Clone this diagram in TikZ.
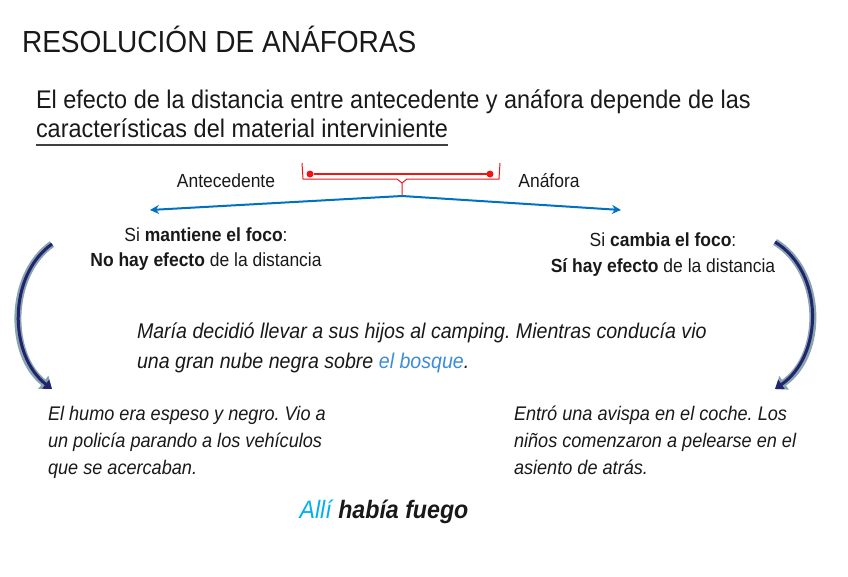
\documentclass[tikz,border=0pt]{standalone}
\usepackage{fontspec}
\setmainfont{Liberation Sans}[FakeStretch=0.92]
\usetikzlibrary{arrows.meta}
\definecolor{linkblue}{RGB}{0,112,192}
\definecolor{softblue}{RGB}{60,140,215}
\definecolor{skyblue}{RGB}{0,176,240}
\definecolor{bracered}{RGB}{240,20,20}
\definecolor{arrownavy}{RGB}{35,35,110}
\definecolor{arrowgrey}{RGB}{135,165,175}
\frenchspacing
\tikzset{
  every node/.style={inner sep=0pt, outer sep=0pt, text=black!90},
  title/.style={anchor=base west, font=\fontsize{30.5}{36}\selectfont},
  lead/.style={anchor=base west, font=\fontsize{25.5}{30}\selectfont},
  tag/.style={anchor=base, font=\fontsize{19}{22}\selectfont},
  story/.style={anchor=base west, font=\fontsize{21.3}{25}\selectfont\itshape},
  sidestory/.style={anchor=base west, font=\fontsize{19.7}{24}\selectfont\itshape},
  curvearrow/.style={line width=7pt, arrowgrey, -{Triangle[length=11pt,width=16pt]}},
  curvecore/.style={line width=3pt, arrownavy, -{Triangle[length=8pt,width=11pt]}}
}
\begin{document}
\begin{tikzpicture}[x=1pt,y=-1pt]
  \useasboundingbox (0,0) rectangle (848,576);
  % heading
  \node[title] (head) at (22,52) {RESOLUCIÓN DE ANÁFORAS};
  \node[lead] (lineA) at (36,108) {El efecto de la distancia entre antecedente y anáfora depende de las};
  \node[lead] (lineB) at (36,137) {características del material interviniente};
  \draw[line width=1.5pt, black!75] (lineB.base west) ++(0,8) -- ++(412,0);
  % red bracket
  \coordinate (brL) at (302,163);
  \coordinate (brR) at (500,163);
  \coordinate (brTip) at (402,196);
  \draw[bracered, line width=1pt] (brL) -- (303,179) -- (397,179) -- (402,183) -- (brTip)
        (402,183) -- (407,179) -- (499,179) -- (brR);
  \node[circle, fill=bracered, minimum size=7pt] (dotL) at (310,174) {};
  \node[circle, fill=bracered, minimum size=7pt] (dotR) at (490,174) {};
  \draw[bracered, line width=2pt] (dotL) -- (dotR);
  % blue arrows
  \coordinate (tipL) at (150,210);
  \coordinate (tipR) at (621,210);
  \draw[linkblue, line width=2pt, -{Stealth[length=9pt,width=9pt]}] (brTip) -- (tipL);
  \draw[linkblue, line width=2pt, -{Stealth[length=9pt,width=9pt]}] (brTip) -- (tipR);
  \node[tag] (ante) at (226,187) {Antecedente};
  \node[tag] (anaf) at (549,187) {Anáfora};
  \node[tag] (keepA) at (206,241) {Si \textbf{mantiene el foco}:};
  \node[tag] (keepB) at (206,266) {\textbf{No hay efecto} de la distancia};
  \node[tag] (swapA) at (663,246) {Si \textbf{cambia el foco}:};
  \node[tag] (swapB) at (663,272) {\textbf{Sí hay efecto} de la distancia};
  % curved arrows
  \coordinate (bendLa) at (52,244);
  \coordinate (bendLb) at (52,389);
  \coordinate (bendRa) at (775,242);
  \coordinate (bendRb) at (775,389);
  \draw[curvearrow] (bendLa) .. controls (8,275) and (8,355) .. (bendLb);
  \draw[curvecore] (bendLa) .. controls (8,275) and (8,355) .. (bendLb);
  \draw[curvearrow] (bendRa) .. controls (824,272) and (824,355) .. (bendRb);
  \draw[curvecore] (bendRa) .. controls (824,272) and (824,355) .. (bendRb);
  % story
  \node[story] (storyA) at (137,338) {María decidió llevar a sus hijos al camping. Mientras conducía vio};
  \node[story] (storyB) at (137,368) {una gran nube negra sobre \textcolor{softblue}{el bosque}.};
  \node[sidestory] (leftA) at (48,420) {El humo era espeso y negro. Vio a};
  \node[sidestory] (leftB) at (48,447) {un policía parando a los vehículos};
  \node[sidestory] (leftC) at (48,474) {que se acercaban.};
  \node[sidestory] (rightA) at (514,420) {Entró una avispa en el coche. Los};
  \node[sidestory] (rightB) at (514,447) {niños comenzaron a pelearse en el};
  \node[sidestory] (rightC) at (514,474) {asiento de atrás.};
  \node[anchor=base, font=\fontsize{25.2}{30}\selectfont\itshape\bfseries] (fire) at (384,518)
        {\textcolor{skyblue}{\mdseries Allí} había\ fuego};
\end{tikzpicture}
\end{document}
